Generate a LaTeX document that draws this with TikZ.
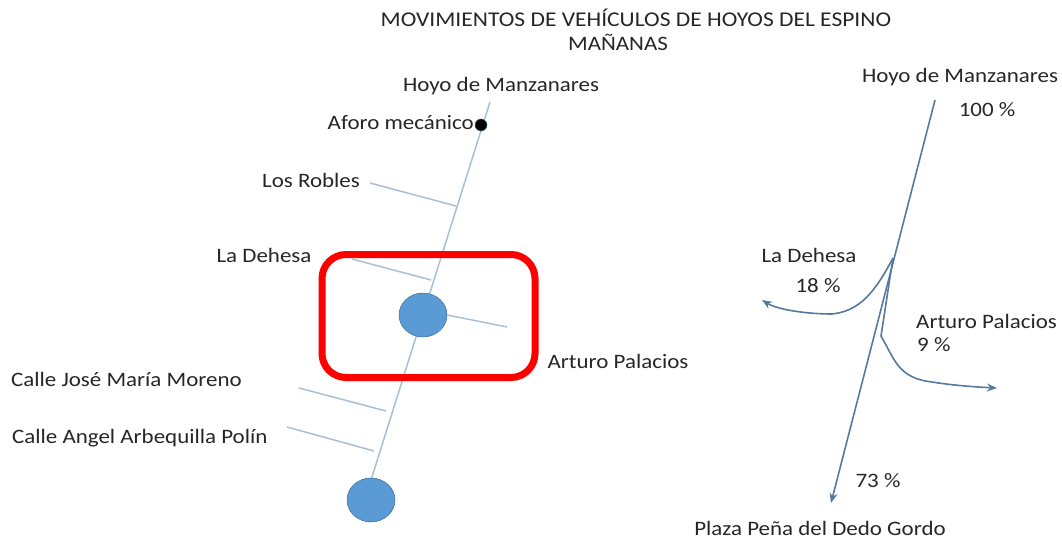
\documentclass[tikz,border=0pt]{standalone}
\usepackage{fontspec}
\setmainfont{Carlito}[FakeStretch=1.12]
\usetikzlibrary{arrows.meta}
\usetikzlibrary{shapes.geometric}
\definecolor{roadblue}{RGB}{170,190,214}
\definecolor{flowblue}{RGB}{84,122,160}
\definecolor{circleblue}{RGB}{91,155,213}
\tikzset{
  lbl/.style={font=\fontsize{20.5}{24}\selectfont, text=black!85, inner sep=0pt},
  road/.style={draw=roadblue, line width=1.5pt},
  flow/.style={draw=flowblue, line width=1.6pt},
  flowtip/.style={-{Stealth[length=10pt,width=8pt]}},
  junction/.style={ellipse, draw=circleblue!70!black, line width=0.5pt, fill=circleblue, inner sep=0pt, minimum width=48pt, minimum height=44pt}
}
\begin{document}
\begin{tikzpicture}[x=1pt,y=-1pt]
\useasboundingbox (0,0) rectangle (1062,540);
    % title
    \node[lbl, font=\fontsize{21}{24}\selectfont] (title1) at (636,18) {MOVIMIENTOS DE VEHÍCULOS DE HOYOS DEL ESPINO};
    \node[lbl] (title2) at (618,42) {MAÑANAS};
    % left: road points
    \coordinate (north) at (490,102);
    \coordinate (south) at (371,480);
    \coordinate (robA) at (370,183);
    \coordinate (robB) at (456,206);
    \coordinate (dehA) at (352,259);
    \coordinate (dehB) at (431,280);
    \coordinate (artB) at (507,327);
    \coordinate (josA) at (299,388);
    \coordinate (josB) at (386,411);
    \coordinate (angA) at (287,427);
    \coordinate (angB) at (374,451);
    % left: roads
    \draw[road] (north) -- (south);
    \draw[road] (robA) -- (robB);
    \draw[road] (dehA) -- (dehB);
    \draw[road] (josA) -- (josB);
    \draw[road] (angA) -- (angB);
    \node[junction] (circA) at (423,315) {};
    \node[junction] (circB) at (371,500) {};
    \node[circle, fill=black, draw=circleblue!60!black, line width=0.5pt, inner sep=0pt, minimum width=12pt] (aforo) at (481,125) {};
    \draw[road] (circA.east) -- (artB);
    % red box
    \node[draw=red, line width=7pt, rounded corners=24pt, minimum width=213pt, minimum height=123pt, inner sep=0pt] (zone) at (428.5,316) {};
    % left: labels
    \node[lbl] (hoyoL) at (501,86) {Hoyo de Manzanares};
    \node[lbl, anchor=east] (aforoL) at (474,123) {Aforo mecánico};
    \node[lbl] (roblesL) at (311,180) {Los Robles};
    \node[lbl] (dehesaL) at (264,255) {La Dehesa};
    \node[lbl] (arturoL) at (618,361) {Arturo Palacios};
    \node[lbl, anchor=west] (joseL) at (11,379) {Calle José María Moreno};
    \node[lbl, anchor=west] (angelL) at (12,438) {Calle Angel Arbequilla Polín};
    % right: flows
    \coordinate (inN) at (935,100);
    \coordinate (split) at (893,258);
    \coordinate (outS) at (831,503);
    \coordinate (outW) at (762,300);
    \coordinate (bend) at (881,336);
    \coordinate (outE) at (997,388);
    \draw[flow, flowtip] (inN) -- (outS);
    \draw[flow, flowtip] (split) .. controls (875,292) and (860,311) .. (832,314) .. controls (808,314) and (778,310) .. (outW);
    \draw[flow, flowtip] (split) -- (bend) .. controls (895,360) and (898,378) .. (932,382) .. controls (950,385) and (975,387) .. (outE);
    % right: labels
    \node[lbl] (hoyoR) at (960,77) {Hoyo de Manzanares};
    \node[lbl] (pctN) at (987,110) {100 \%};
    \node[lbl] (dehesaR) at (809,255) {La Dehesa};
    \node[lbl] (pctW) at (818,286) {18 \%};
    \node[lbl, anchor=west] (arturoR) at (916,321) {Arturo Palacios};
    \node[lbl, anchor=west] (pctE) at (917,345) {9 \%};
    \node[lbl] (pctS) at (878,481) {73 \%};
    \node[lbl] (plaza) at (820,528) {Plaza Peña del Dedo Gordo};
\end{tikzpicture}
\end{document}
